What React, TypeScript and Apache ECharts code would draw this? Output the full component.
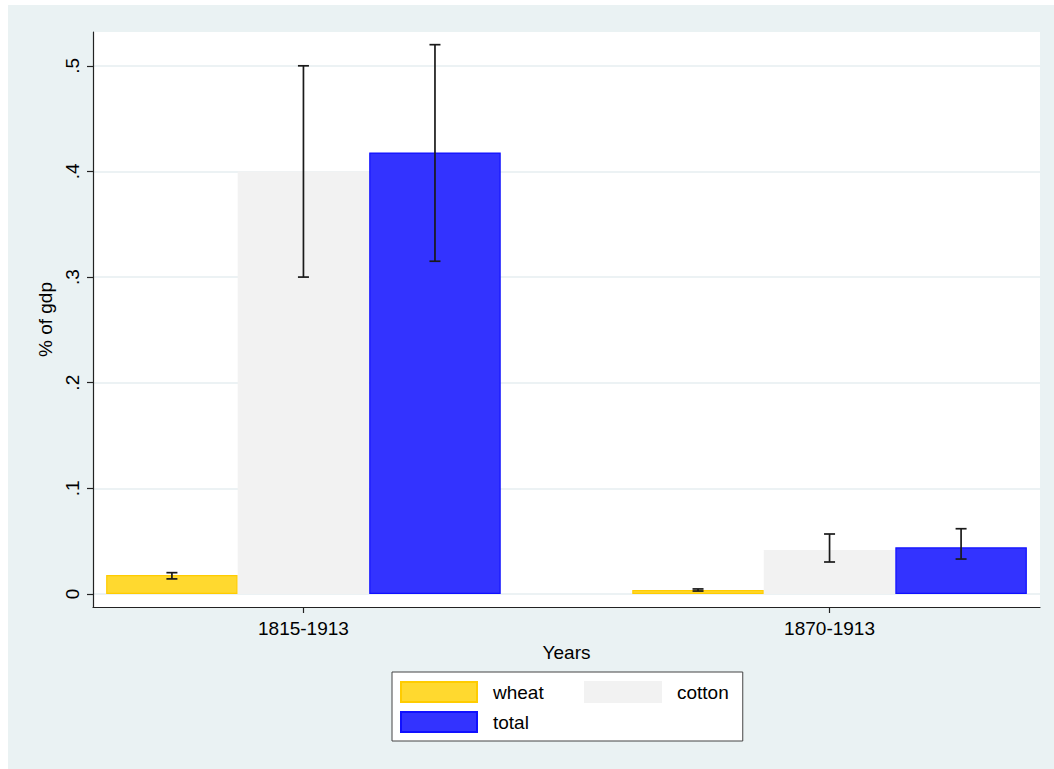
import React, { useEffect, useRef } from "react";
import * as echarts from "echarts";

const categories = ["1815-1913", "1870-1913"];
const seriesNames = ["wheat", "cotton", "total"];
const wheat = [0.018, 0.0038];
const cotton = [0.4, 0.0416];
const total = [0.418, 0.0442];
const wheatLo = [0.0143, 0.0028];
const wheatHi = [0.0202, 0.0048];
const cottonLo = [0.3, 0.0303];
const cottonHi = [0.5, 0.0568];
const totalLo = [0.315, 0.0331];
const totalHi = [0.52, 0.0618];
const yTicks = [0, 0.1, 0.2, 0.3, 0.4, 0.5];

const FONT = "'Liberation Sans', Arial, Helvetica, sans-serif";
const BAR_UNIT = 0.25; // bar width in x-axis units

export default function App() {
  const ref = useRef<HTMLDivElement>(null);
  useEffect(() => {
    if (!ref.current) return;
    const chart = echarts.init(ref.current, null, { renderer: "svg" });
    const xs = categories.map((_, i) => i + 1);
    const values = [wheat, cotton, total];
    const los = [wheatLo, cottonLo, totalLo];
    const his = [wheatHi, cottonHi, totalHi];
    const colors = [
      { fill: "#FFD92F", border: "#FFCC00" },
      { fill: "#F2F2F2", border: "#F2F2F2" },
      { fill: "#3333FF", border: "#1010FF" },
    ];
    const errData: number[][] = [];
    seriesNames.forEach((_, k) => {
      xs.forEach((x, i) => errData.push([x, los[k][i], his[k][i], k]));
    });
    const textColor = "#000";
    chart.setOption({
      animation: false,
      backgroundColor: "#EAF2F3",
      textStyle: { fontFamily: FONT },
      grid: {
        left: 85,
        top: 27,
        right: 14,
        bottom: 162,
        show: true,
        backgroundColor: "#FFFFFF",
        borderWidth: 0,
      },
      legend: {
        left: 384,
        top: 667,
        width: 330,
        orient: "horizontal",
        icon: "rect",
        itemWidth: 76,
        itemHeight: 20,
        itemGap: 8,
        padding: [9, 14, 8, 8],
        backgroundColor: "#FFFFFF",
        borderColor: "#444444",
        borderWidth: 1,
        borderRadius: 0,
        textStyle: {
          fontSize: 19,
          lineHeight: 18,
          color: textColor,
          fontFamily: FONT,
          padding: [0, 0, 0, 11],
          rich: {
            w: { width: 83, fontSize: 19, lineHeight: 18, color: textColor, fontFamily: FONT },
            c: { fontSize: 19, lineHeight: 18, color: textColor, fontFamily: FONT },
          },
        },
        formatter: (name: string) => (name === "cotton" ? `{c|${name}}` : `{w|${name}}`),
        data: seriesNames,
      },
      xAxis: {
        type: "value",
        min: 0.6,
        max: 2.4,
        name: "Years",
        nameLocation: "middle",
        nameGap: 28,
        nameTextStyle: { fontSize: 19, color: textColor, fontFamily: FONT },
        axisLine: { show: true, onZero: false, lineStyle: { color: "#222", width: 1.2 } },
        axisTick: { show: true, length: 6, customValues: xs, lineStyle: { color: "#222", width: 1.2 } },
        axisLabel: {
          customValues: xs,
          margin: 12,
          fontSize: 19,
          color: textColor,
          fontFamily: FONT,
          formatter: (v: number) => categories[Math.round(v) - 1] ?? "",
        },
        splitLine: { show: false },
      },
      yAxis: {
        type: "value",
        min: -0.0123,
        max: 0.532,
        name: "% of gdp",
        nameLocation: "middle",
        nameGap: 31,
        nameTextStyle: { fontSize: 19, color: textColor, fontFamily: FONT },
        axisLine: { show: true, onZero: false, lineStyle: { color: "#222", width: 1.2 } },
        axisTick: { show: true, length: 6, customValues: yTicks, lineStyle: { color: "#222", width: 1.2 } },
        axisLabel: {
          customValues: yTicks,
          rotate: 90,
          margin: 11,
          fontSize: 19,
          color: textColor,
          fontFamily: FONT,
          formatter: (v: number) => (v === 0 ? "0" : v.toFixed(1).replace(/^0/, "")),
        },
        splitLine: { show: true, lineStyle: { color: "#E6EEF0", width: 1.5 } },
      },
      series: [
        ...seriesNames.map((name, k) => ({
          name,
          type: "bar",
          barWidth: "25%",
          barGap: "0%",
          data: xs.map((x, i) => [x, values[k][i]]),
          itemStyle: { color: colors[k].fill, borderColor: colors[k].border, borderWidth: 1.2 },
          emphasis: { disabled: true },
          z: 2,
        })),
        {
          name: "ci",
          type: "custom",
          data: errData,
          encode: { x: 0, y: [1, 2] },
          z: 5,
          silent: true,
          renderItem: (params: any, api: any) => {
            const x = api.value(0);
            const lo = api.value(1);
            const hi = api.value(2);
            const k = api.value(3);
            const off = api.size([BAR_UNIT, 0])[0] * (k - 1);
            const top = api.coord([x, hi]);
            const bot = api.coord([x, lo]);
            const cx = top[0] + off;
            const cap = 5.5;
            const style = { stroke: "#1a1a1a", lineWidth: 1.7 };
            return {
              type: "group",
              children: [
                { type: "line", shape: { x1: cx, y1: top[1], x2: cx, y2: bot[1] }, style },
                { type: "line", shape: { x1: cx - cap, y1: top[1], x2: cx + cap, y2: top[1] }, style },
                { type: "line", shape: { x1: cx - cap, y1: bot[1], x2: cx + cap, y2: bot[1] }, style },
              ],
            };
          },
        },
      ],
    });
    return () => chart.dispose();
  }, []);
  return (
    <div
      ref={ref}
      style={{ position: "absolute", left: 8, top: 5, width: 1046, height: 764 }}
    />
  );
}
